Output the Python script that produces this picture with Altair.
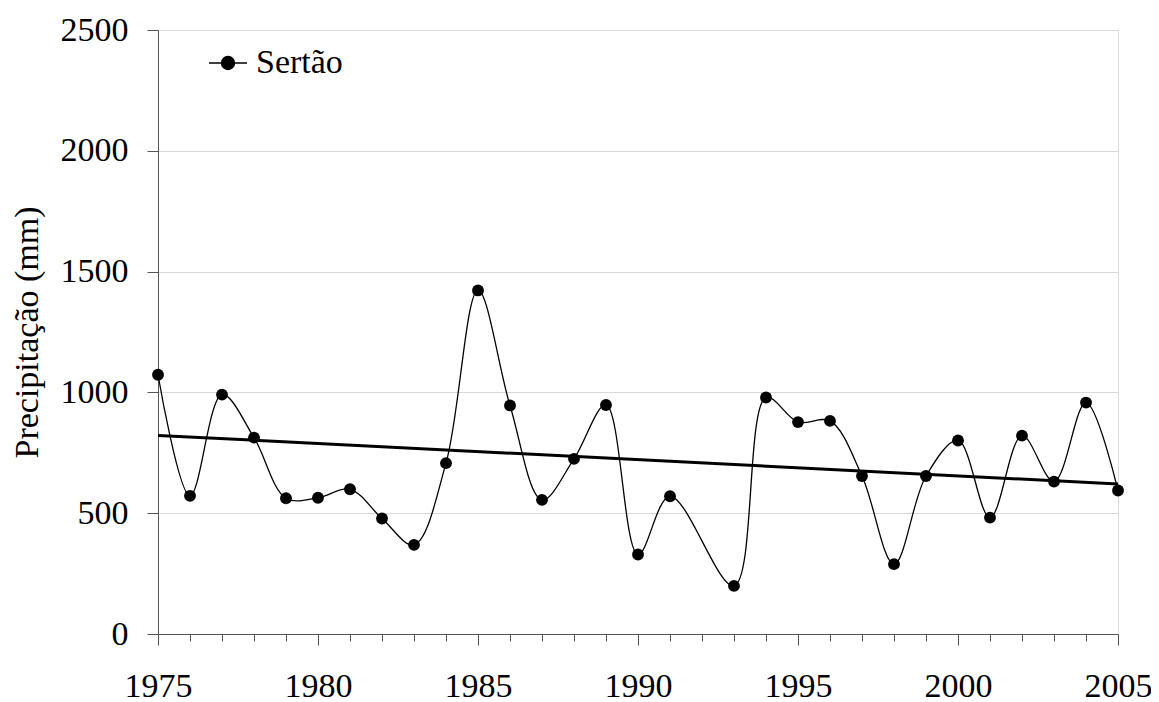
import altair as alt
import pandas as pd

years = [1975, 1976, 1977, 1978, 1979, 1980, 1981, 1982, 1983, 1984, 1985, 1986,
         1987, 1988, 1989, 1990, 1991, 1993, 1994, 1995, 1996, 1997, 1998, 1999,
         2000, 2001, 2002, 2003, 2004, 2005]
precip = [1073, 572, 991, 813, 562, 564, 599, 478, 369, 707, 1422, 946,
          555, 725, 948, 329, 570, 199, 979, 877, 882, 654, 289, 654,
          801, 482, 821, 631, 958, 594]
series_name = "Sertão"
trend_years = [1975, 2005]
trend_values = [822, 621]
tick_years = list(range(1975, 2006))
y_ticks = [0, 500, 1000, 1500, 2000, 2500]

df = pd.DataFrame({"year": years, "value": precip, "serie": series_name})
df_trend = pd.DataFrame({"year": trend_years, "value": trend_values})

FONT = "Liberation Serif"
FS = 34

x_scale = alt.Scale(domain=[1975, 2005], nice=False, zero=False)
y_scale = alt.Scale(domain=[0, 2500], nice=False)

x_axis = alt.Axis(
    values=tick_years, tickCount=100, format="d", grid=False, orient="bottom",
    labelExpr="datum.value % 5 === 0 ? datum.label : ''",
    tickSize={"condition": {"test": "datum.value % 5 === 0", "value": 11}, "value": 7},
    domainColor="#555555", tickColor="#555555", labelPadding=24,
    labelFont=FONT, labelFontSize=FS, labelColor="black", labelFlush=False,
    labelOverlap=False, title=None,
)
y_axis = alt.Axis(
    values=y_ticks, tickCount=10, format="d", title="Precipitação (mm)", grid=True,
    orient="left", gridColor="#d9d9d9", tickSize=11, labelPadding=19,
    domainColor="#555555", tickColor="#555555",
    labelFont=FONT, labelFontSize=FS, labelColor="black",
    titleFont=FONT, titleFontSize=FS, titleFontWeight="normal",
    titleColor="black", titlePadding=16,
)

base = alt.Chart(df)

line = base.mark_line(interpolate="catmull-rom", color="black", strokeWidth=1.3).encode(
    x=alt.X("year:Q", scale=x_scale, axis=x_axis),
    y=alt.Y("value:Q", scale=y_scale, axis=y_axis),
)

points = base.mark_point(filled=True, size=140, opacity=1).encode(
    x=alt.X("year:Q", scale=x_scale),
    y=alt.Y("value:Q", scale=y_scale),
    color=alt.Color("serie:N", scale=alt.Scale(range=["black"]),
                    legend=alt.Legend(orient="none", legendX=50, legendY=13, title=None,
                                      labelFont=FONT, labelFontSize=FS, labelColor="black",
                                      symbolType="M -1 0 L 1 0 M 0.34 0 A 0.34 0.34 0 1 1 -0.34 0 A 0.34 0.34 0 1 1 0.34 0",
                                      symbolSize=1444, symbolStrokeWidth=1.5,
                                      symbolFillColor="black", symbolStrokeColor="black",
                                      labelOffset=8)),
)

trend = alt.Chart(df_trend).mark_line(color="black", strokeWidth=3).encode(
    x=alt.X("year:Q", scale=x_scale),
    y=alt.Y("value:Q", scale=y_scale),
)

chart = alt.layer(line, trend, points).properties(
    width=960, height=604,
    autosize=alt.AutoSizeParams(type="none"),
    padding={"left": 150, "top": 22, "right": 33, "bottom": 68},
).configure_view(strokeWidth=0).configure(background="white")

chart.save("out.html", embed_options={"renderer": "svg", "actions": False})
